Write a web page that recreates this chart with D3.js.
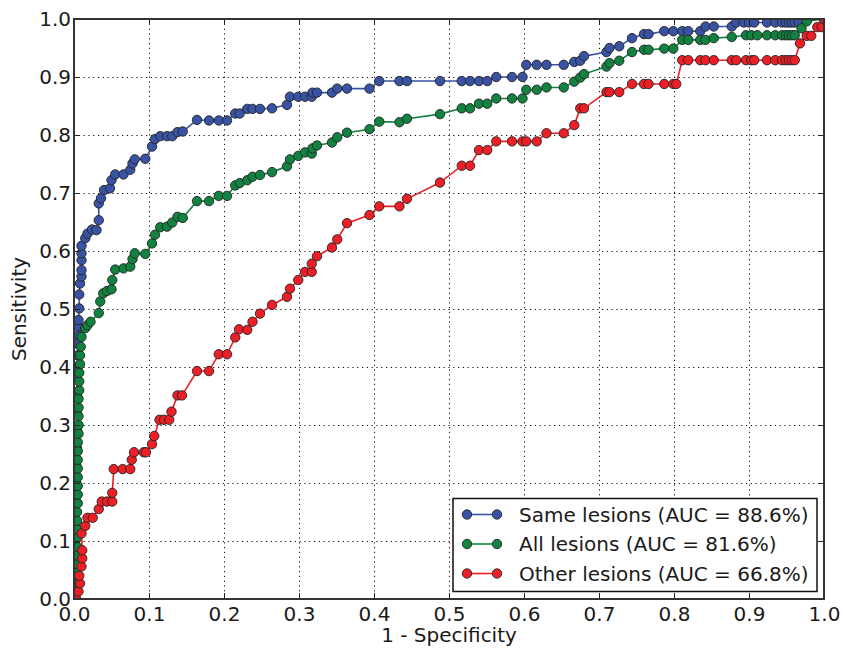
<!DOCTYPE html>
<html>
<head>
<meta charset="utf-8">
<script src="https://cdn.jsdelivr.net/npm/d3@7"></script>
<style>
  html, body { margin: 0; padding: 0; background: #fff; }
  svg { display: block; font-family: "DejaVu Sans", sans-serif; }
</style>
</head>
<body>
<svg id="chart" width="843" height="649"></svg>
<script>
// ROC curves: [1 - specificity, sensitivity] pairs
const sameLesions = [
  [0,0],[0.002,0.03],[0.002,0.06],[0.003,0.09],[0.003,0.12],[0.003,0.15],[0.003,0.18],[0.003,0.20],
  [0.003,0.23],[0.004,0.26],[0.004,0.29],[0.004,0.32],[0.004,0.35],[0.004,0.38],[0.005,0.40],[0.005,0.42],
  [0.005,0.44],[0.006,0.455],[0.006,0.47],[0.006,0.481],[0.007,0.501],[0.007,0.525],[0.008,0.544],
  [0.010,0.556],[0.010,0.567],[0.010,0.584],[0.010,0.596],[0.010,0.609],[0.015,0.622],[0.018,0.630],
  [0.024,0.637],[0.030,0.636],[0.033,0.653],[0.033,0.682],[0.036,0.691],[0.040,0.705],[0.048,0.708],
  [0.050,0.722],[0.055,0.732],[0.066,0.732],[0.075,0.740],[0.078,0.751],[0.081,0.758],[0.095,0.759],
  [0.104,0.780],[0.108,0.793],[0.115,0.798],[0.124,0.798],[0.131,0.798],[0.138,0.805],[0.145,0.806],
  [0.164,0.826],[0.180,0.825],[0.193,0.825],[0.204,0.825],[0.215,0.837],[0.221,0.837],[0.231,0.845],
  [0.238,0.845],[0.248,0.845],[0.264,0.846],[0.284,0.852],[0.288,0.866],[0.299,0.866],[0.308,0.866],
  [0.317,0.866],[0.318,0.873],[0.324,0.873],[0.344,0.873],[0.351,0.880],[0.364,0.880],[0.394,0.880],
  [0.407,0.893],[0.434,0.893],[0.444,0.893],[0.488,0.893],[0.517,0.893],[0.528,0.893],[0.540,0.893],
  [0.551,0.893],[0.563,0.900],[0.584,0.900],[0.598,0.900],[0.603,0.921],[0.617,0.921],[0.630,0.921],
  [0.653,0.921],[0.667,0.926],[0.675,0.928],[0.680,0.936],[0.710,0.943],[0.714,0.950],[0.727,0.953],
  [0.744,0.967],[0.760,0.974],[0.766,0.974],[0.787,0.979],[0.799,0.979],[0.811,0.979],[0.819,0.979],
  [0.835,0.979],[0.842,0.987],[0.853,0.987],[0.877,0.987],[0.883,0.994],[0.893,0.994],[0.900,0.994],
  [0.907,0.994],[0.924,0.994],[0.935,0.994],[0.944,0.994],[0.949,0.994],[0.953,0.994],[0.957,0.994],
  [0.961,0.994],[0.966,0.994],[0.977,1.0],[1,1]
];

const allLesions = [
  [0,0],[0.003,0.015],[0.003,0.03],[0.004,0.045],[0.004,0.06],[0.004,0.075],[0.004,0.09],[0.004,0.105],
  [0.004,0.12],[0.004,0.135],[0.004,0.15],[0.005,0.165],[0.005,0.18],[0.005,0.195],[0.005,0.21],
  [0.005,0.225],[0.005,0.24],[0.005,0.255],[0.005,0.27],[0.006,0.285],[0.006,0.30],[0.006,0.315],
  [0.006,0.33],[0.006,0.345],[0.007,0.36],[0.007,0.375],[0.007,0.39],[0.008,0.405],[0.008,0.42],
  [0.009,0.435],[0.010,0.452],[0.015,0.467],[0.018,0.472],[0.022,0.478],[0.033,0.493],[0.035,0.513],
  [0.039,0.527],[0.044,0.531],[0.050,0.534],[0.051,0.550],[0.055,0.568],[0.066,0.570],[0.075,0.573],
  [0.078,0.586],[0.081,0.596],[0.095,0.595],[0.104,0.613],[0.108,0.628],[0.115,0.641],[0.124,0.642],
  [0.131,0.649],[0.138,0.659],[0.145,0.657],[0.164,0.686],[0.180,0.686],[0.193,0.695],[0.204,0.695],
  [0.215,0.713],[0.221,0.717],[0.231,0.722],[0.238,0.728],[0.248,0.731],[0.264,0.736],[0.284,0.746],
  [0.288,0.758],[0.299,0.764],[0.308,0.770],[0.317,0.768],[0.318,0.777],[0.324,0.782],[0.344,0.787],
  [0.351,0.796],[0.364,0.804],[0.394,0.810],[0.407,0.823],[0.434,0.822],[0.444,0.828],[0.488,0.836],
  [0.517,0.846],[0.528,0.846],[0.540,0.854],[0.551,0.854],[0.563,0.863],[0.584,0.863],[0.598,0.863],
  [0.603,0.878],[0.617,0.878],[0.630,0.882],[0.653,0.882],[0.667,0.892],[0.675,0.899],[0.680,0.905],
  [0.710,0.918],[0.714,0.924],[0.727,0.928],[0.744,0.943],[0.760,0.947],[0.766,0.947],[0.787,0.949],
  [0.799,0.949],[0.811,0.964],[0.819,0.964],[0.835,0.964],[0.842,0.964],[0.853,0.967],[0.877,0.969],
  [0.896,0.972],[0.903,0.972],[0.911,0.972],[0.924,0.972],[0.935,0.972],[0.944,0.972],[0.949,0.972],
  [0.953,0.972],[0.957,0.972],[0.961,0.972],[0.970,0.984],[0.977,0.996],[1,1]
];

const otherLesions = [
  [0.003,0.0],[0.006,0.013],[0.008,0.027],[0.007,0.040],[0.010,0.056],[0.011,0.070],[0.011,0.084],
  [0.010,0.113],[0.015,0.126],[0.018,0.140],[0.025,0.140],[0.033,0.155],[0.037,0.168],[0.044,0.168],
  [0.051,0.168],[0.051,0.183],[0.053,0.224],[0.065,0.224],[0.075,0.224],[0.077,0.240],[0.080,0.253],
  [0.093,0.253],[0.096,0.253],[0.104,0.267],[0.107,0.281],[0.114,0.309],[0.120,0.309],[0.127,0.309],
  [0.130,0.323],[0.138,0.351],[0.144,0.351],[0.164,0.393],[0.180,0.393],[0.193,0.422],[0.204,0.422],
  [0.215,0.451],[0.220,0.465],[0.231,0.464],[0.238,0.478],[0.248,0.492],[0.264,0.507],[0.284,0.521],
  [0.288,0.535],[0.299,0.550],[0.308,0.564],[0.317,0.564],[0.317,0.578],[0.324,0.591],[0.344,0.606],
  [0.351,0.620],[0.364,0.648],[0.394,0.662],[0.407,0.677],[0.434,0.677],[0.444,0.690],[0.488,0.718],
  [0.517,0.747],[0.528,0.747],[0.540,0.774],[0.551,0.774],[0.563,0.789],[0.584,0.789],[0.598,0.789],
  [0.603,0.789],[0.617,0.789],[0.630,0.803],[0.653,0.803],[0.667,0.817],[0.675,0.846],[0.680,0.846],
  [0.710,0.874],[0.714,0.874],[0.727,0.874],[0.744,0.888],[0.760,0.888],[0.766,0.888],[0.787,0.888],
  [0.799,0.888],[0.803,0.888],[0.811,0.929],[0.819,0.929],[0.835,0.929],[0.842,0.929],[0.853,0.929],
  [0.877,0.929],[0.883,0.929],[0.896,0.929],[0.903,0.929],[0.907,0.929],[0.924,0.929],[0.935,0.929],
  [0.944,0.929],[0.949,0.929],[0.953,0.929],[0.957,0.929],[0.961,0.929],[0.968,0.958],[0.977,0.971],
  [0.983,0.971],[0.991,0.986],[0.997,0.986],[1,1]
];

const seriesNames = ["Same lesions (AUC = 88.6%)", "All lesions (AUC = 81.6%)", "Other lesions (AUC = 66.8%)"];
const seriesColors = ["#3953a4", "#11823f", "#ec1f26"];
const xTicks = [0, 0.1, 0.2, 0.3, 0.4, 0.5, 0.6, 0.7, 0.8, 0.9, 1.0];
const yTicks = [0, 0.1, 0.2, 0.3, 0.4, 0.5, 0.6, 0.7, 0.8, 0.9, 1.0];

const series = [sameLesions, allLesions, otherLesions].map((pts, i) => ({
  name: seriesNames[i], color: seriesColors[i], points: pts
}));

const svg = d3.select("#chart");
const plotLeft = 74, plotRight = 824, plotTop = 19, plotBottom = 599;
const x = d3.scaleLinear().domain([0, 1]).range([plotLeft, plotRight]);
const y = d3.scaleLinear().domain([0, 1]).range([plotBottom, plotTop]);
const fmt = d3.format(".1f");

svg.append("rect").attr("width", 843).attr("height", 649).attr("fill", "#fff");

// dotted grid
const grid = svg.append("g").attr("stroke", "#111").attr("stroke-width", 1)
  .attr("stroke-dasharray", "1.2,3.6");
grid.selectAll("line.gx").data(xTicks.slice(1, -1)).join("line").attr("class", "gx")
  .attr("x1", d => Math.round(x(d)) + 0.5).attr("x2", d => Math.round(x(d)) + 0.5)
  .attr("y1", plotTop).attr("y2", plotBottom);
grid.selectAll("line.gy").data(yTicks.slice(1, -1)).join("line").attr("class", "gy")
  .attr("y1", d => Math.round(y(d)) + 0.5).attr("y2", d => Math.round(y(d)) + 0.5)
  .attr("x1", plotLeft).attr("x2", plotRight);

// curves, clipped to the plot area
svg.append("clipPath").attr("id", "plot-clip")
  .append("rect").attr("x", plotLeft).attr("y", plotTop)
  .attr("width", plotRight - plotLeft).attr("height", plotBottom - plotTop);
const plot = svg.append("g").attr("clip-path", "url(#plot-clip)");
const line = d3.line().x(d => x(d[0])).y(d => y(d[1]));

series.forEach(s => {
  const g = plot.append("g");
  g.append("path").datum(s.points).attr("d", line)
    .attr("fill", "none").attr("stroke", s.color).attr("stroke-width", 1.6);
  g.selectAll("circle").data(s.points).join("circle")
    .attr("cx", d => x(d[0])).attr("cy", d => y(d[1])).attr("r", 4.7)
    .attr("fill", s.color).attr("stroke", "#222").attr("stroke-width", 0.9);
});

// axes with inward ticks
const axisFont = g => g.selectAll("text").attr("font-size", 20).attr("fill", "#1a1a1a")
  .attr("font-family", "DejaVu Sans, sans-serif");
const styleTicks = g => {
  g.select(".domain").remove();
  g.selectAll(".tick line").attr("stroke", "#222").attr("stroke-width", 1);
};

svg.append("g").attr("transform", `translate(0,${plotBottom})`)
  .call(d3.axisBottom(x).tickValues(xTicks).tickFormat(fmt).tickSizeInner(-6).tickSizeOuter(0).tickPadding(8))
  .call(styleTicks).call(axisFont);
svg.append("g").attr("transform", `translate(${plotLeft},0)`)
  .call(d3.axisLeft(y).tickValues(yTicks).tickFormat(fmt).tickSizeInner(-6).tickSizeOuter(0).tickPadding(3))
  .call(styleTicks).call(axisFont);
svg.append("g").attr("transform", `translate(0,${plotTop})`)
  .call(d3.axisTop(x).tickValues(xTicks).tickFormat("").tickSizeInner(-6).tickSizeOuter(0))
  .call(styleTicks);
svg.append("g").attr("transform", `translate(${plotRight},0)`)
  .call(d3.axisRight(y).tickValues(yTicks).tickFormat("").tickSizeInner(-6).tickSizeOuter(0))
  .call(styleTicks);

// frame
svg.append("rect").attr("x", plotLeft).attr("y", plotTop)
  .attr("width", plotRight - plotLeft).attr("height", plotBottom - plotTop)
  .attr("fill", "none").attr("stroke", "#333").attr("stroke-width", 2);

// axis titles
svg.append("text").attr("x", (plotLeft + plotRight) / 2).attr("y", 642)
  .attr("text-anchor", "middle").attr("font-size", 20).attr("fill", "#1a1a1a")
  .text("1 - Specificity");
svg.append("text").attr("transform", `translate(26,${(plotTop + plotBottom) / 2}) rotate(-90)`)
  .attr("text-anchor", "middle").attr("font-size", 20).attr("fill", "#1a1a1a")
  .text("Sensitivity");

// legend
const legend = svg.append("g");
legend.append("rect").attr("x", 453).attr("y", 498.5).attr("width", 364).attr("height", 93)
  .attr("fill", "#fff").attr("stroke", "#111").attr("stroke-width", 1.5);
series.forEach((s, i) => {
  const cy = 514.5 + i * 29.5;
  const row = legend.append("g");
  row.append("line").attr("x1", 467).attr("x2", 497).attr("y1", cy).attr("y2", cy)
    .attr("stroke", s.color).attr("stroke-width", 1.6);
  row.selectAll("circle").data([467, 497]).join("circle")
    .attr("cx", d => d).attr("cy", cy).attr("r", 4.7)
    .attr("fill", s.color).attr("stroke", "#222").attr("stroke-width", 0.9);
  row.append("text").attr("x", 519).attr("y", cy).attr("dy", "0.36em")
    .attr("font-size", 20).attr("fill", "#1a1a1a").text(s.name);
});
</script>
</body>
</html>
